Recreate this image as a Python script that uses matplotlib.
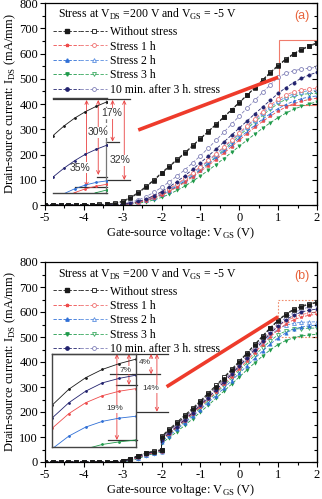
import matplotlib
matplotlib.use("Agg")
import matplotlib.pyplot as plt
from matplotlib.lines import Line2D
from matplotlib.patches import Rectangle
from matplotlib.legend_handler import HandlerTuple
from matplotlib.ticker import MultipleLocator

plt.rcParams["font.family"] = ["Liberation Serif", "DejaVu Serif"]
plt.rcParams["mathtext.fontset"] = "custom"
plt.rcParams["mathtext.rm"] = "Liberation Serif"
plt.rcParams["axes.unicode_minus"] = False

# ---- panel (a): one sweep, -5 V .. 2 V ----
VGS_A = [-5.0, -4.8, -4.6, -4.4, -4.2, -4.0, -3.8, -3.6, -3.4, -3.2, -3.0, -2.8,
         -2.6, -2.4, -2.2, -2.0, -1.8, -1.6, -1.4, -1.2, -1.0, -0.8, -0.6, -0.4,
         -0.2, 0.0, 0.2, 0.4, 0.6, 0.8, 1.0, 1.2, 1.4, 1.6, 1.8, 2.0]

BLACK_FWD_A = [0, 0, 0, 0, 0, 0, 1, 1, 2, 5, 13, 27, 47, 71, 97, 125, 152, 178, 205, 233,
               262, 290, 318, 347, 376, 405, 434, 463, 493, 523, 551, 576, 597, 614, 628, 640]
BLACK_BWD_A = [0, 0, 0, 0, 0, 1, 1, 2, 4, 8, 16, 30, 50, 74, 100, 128, 155, 181, 208, 236,
               264, 292, 320, 349, 378, 407, 436, 466, 496, 526, 554, 579, 600, 617, 631, 643]
NAVY_FWD_A = [0, 0, 0, 0, 0, 0, 0, 0, 0, 1, 3, 7, 14, 24, 37, 53, 72, 93, 116, 141,
              167, 194, 221, 249, 277, 305, 333, 361, 388, 415, 442, 465, 485, 502, 515, 526]
LAV_BWD_A = [0, 0, 0, 0, 0, 0, 0, 0, 1, 2, 5, 11, 20, 33, 50, 70, 92, 115, 140, 167,
             195, 225, 256, 288, 320, 352, 384, 415, 446, 476, 506, 522, 532, 538, 542, 545]
RED_FWD_A = [0, 0, 0, 0, 0, 0, 0, 0, 0, 0, 2, 5, 10, 17, 27, 39, 54, 71, 90, 111,
             133, 156, 180, 205, 231, 257, 283, 308, 331, 352, 372, 388, 401, 411, 418, 423]
RED_BWD_A = [0, 0, 0, 0, 0, 0, 0, 0, 0, 1, 3, 7, 13, 22, 34, 48, 65, 84, 105, 128,
             152, 177, 203, 230, 258, 286, 314, 342, 370, 396, 418, 436, 448, 456, 460, 462]
BLUE_FWD_A = [0, 0, 0, 0, 0, 0, 0, 0, 0, 0, 2, 5, 11, 18, 29, 42, 57, 75, 95, 116,
              139, 163, 188, 213, 239, 265, 291, 316, 340, 362, 382, 398, 411, 421, 428, 432]
BLUE_BWD_A = [0, 0, 0, 0, 0, 0, 0, 0, 0, 1, 2, 6, 12, 20, 31, 45, 61, 80, 101, 124,
              148, 173, 199, 226, 254, 282, 310, 337, 363, 388, 410, 428, 440, 448, 453, 455]
GREEN_FWD_A = [0, 0, 0, 0, 0, 0, 0, 0, 0, 0, 1, 3, 7, 12, 20, 30, 43, 58, 75, 94,
               115, 137, 160, 184, 208, 233, 257, 281, 304, 326, 346, 364, 379, 391, 401, 408]
GREEN_BWD_A = [0, 0, 0, 0, 0, 0, 0, 0, 0, 0, 2, 5, 10, 17, 27, 40, 56, 74, 94, 116,
               140, 165, 191, 218, 246, 274, 302, 329, 355, 380, 402, 419, 431, 438, 441, 442]

# ---- panel (b): two sweeps joined at -2 V (step in the data there) ----
VGS_B = [-5.0, -4.8, -4.6, -4.4, -4.2, -4.0, -3.8, -3.6, -3.4, -3.2, -3.0, -2.8,
         -2.6, -2.4, -2.2, -2.0,
         -2.0, -1.8, -1.6, -1.4, -1.2, -1.0, -0.8, -0.6, -0.4, -0.2, 0.0, 0.2,
         0.4, 0.6, 0.8, 1.0, 1.2, 1.4, 1.6, 1.8, 2.0]

BLACK_FWD_B = [0, 0, 0, 0, 0, 0, 0, 0, 0, 1, 4, 12, 24, 35, 42, 48,
               100, 128, 155, 183, 211, 240, 271, 302, 334, 367, 400, 434, 468, 502, 535,
               565, 590, 608, 621, 630, 637]
BLACK_BWD_B = [0, 0, 0, 0, 0, 0, 0, 0, 1, 2, 6, 14, 26, 37, 44, 50,
               104, 132, 160, 188, 216, 245, 276, 307, 339, 371, 404, 437, 471, 505, 538,
               568, 593, 611, 624, 633, 640]
NAVY_FWD_B = [0, 0, 0, 0, 0, 0, 0, 0, 0, 1, 3, 10, 21, 32, 40, 46,
              90, 116, 142, 170, 198, 228, 258, 288, 319, 351, 384, 417, 450, 483, 515,
              545, 569, 587, 600, 607, 612]
LAV_BWD_B = [0, 0, 0, 0, 0, 0, 0, 0, 0, 1, 4, 11, 22, 33, 41, 47,
             96, 123, 150, 178, 206, 235, 265, 296, 327, 359, 392, 425, 459, 492, 524,
             553, 578, 597, 611, 620, 627]
RED_FWD_B = [0, 0, 0, 0, 0, 0, 0, 0, 0, 0, 2, 8, 18, 29, 37, 44,
             88, 113, 139, 166, 194, 222, 251, 280, 311, 342, 374, 406, 438, 470, 501,
             529, 552, 569, 580, 587, 591]
RED_BWD_B = [0, 0, 0, 0, 0, 0, 0, 0, 0, 1, 3, 10, 20, 31, 39, 45,
             92, 118, 145, 172, 200, 229, 259, 290, 321, 353, 385, 418, 451, 484, 515,
             543, 564, 579, 590, 596, 600]
BLUE_FWD_B = [0, 0, 0, 0, 0, 0, 0, 0, 0, 0, 2, 7, 16, 27, 36, 42,
              82, 106, 131, 157, 183, 210, 238, 266, 295, 325, 355, 385, 415, 444, 472,
              497, 517, 531, 540, 545, 548]
BLUE_BWD_B = [0, 0, 0, 0, 0, 0, 0, 0, 0, 0, 2, 8, 18, 29, 38, 44,
              90, 116, 143, 170, 198, 227, 257, 287, 318, 350, 382, 414, 446, 477, 507,
              532, 547, 555, 559, 560, 561]
GREEN_FWD_B = [0, 0, 0, 0, 0, 0, 0, 0, 0, 0, 1, 5, 14, 25, 34, 41,
               75, 98, 122, 147, 173, 200, 227, 255, 283, 311, 340, 369, 397, 424, 449,
               470, 486, 497, 504, 508, 511]
GREEN_BWD_B = [0, 0, 0, 0, 0, 0, 0, 0, 0, 0, 2, 7, 16, 27, 36, 43,
               85, 110, 136, 162, 189, 217, 246, 275, 305, 335, 366, 397, 427, 457, 485,
               509, 524, 531, 534, 535, 536]

LABELS = ["Without stress", "Stress 1 h", "Stress 2 h", "Stress 3 h",
          "10 min. after 3 h. stress"]
TITLE = "Stress at V$_{\\rm DS}$ =200 V and V$_{\\rm GS}$ = -5 V"

# colour, filled marker, open marker, open colour
STYLES = [
    ("#1a1a1a", "s", "s", "#1a1a1a"),
    ("#ee4b4b", "*", "o", "#f07070"),
    ("#2f6fd6", "^", "^", "#5a8ee0"),
    ("#1f9a4a", "v", "v", "#3aaa60"),
    ("#22226e", "o", "o", "#8080b8"),
]

DATA_A = [(BLACK_FWD_A, BLACK_BWD_A), (RED_FWD_A, RED_BWD_A), (BLUE_FWD_A, BLUE_BWD_A),
          (GREEN_FWD_A, GREEN_BWD_A), (NAVY_FWD_A, LAV_BWD_A)]
DATA_B = [(BLACK_FWD_B, BLACK_BWD_B), (RED_FWD_B, RED_BWD_B), (BLUE_FWD_B, BLUE_BWD_B),
          (GREEN_FWD_B, GREEN_BWD_B), (NAVY_FWD_B, LAV_BWD_B)]

RED = "#ee3b2b"
W, H = 322, 499
DASH = (0, (4, 2))

fig = plt.figure(figsize=(W / 100, H / 100), dpi=100)


def style_axes(ax):
    ax.set_xlim(-5, 2)
    ax.set_ylim(0, 800)
    ax.xaxis.set_major_locator(MultipleLocator(1))
    ax.xaxis.set_minor_locator(MultipleLocator(0.5))
    ax.yaxis.set_major_locator(MultipleLocator(100))
    ax.yaxis.set_minor_locator(MultipleLocator(50))
    ax.tick_params(which="both", direction="out", width=0.8, labelsize=9, pad=1.5)
    ax.tick_params(which="major", length=3.5)
    ax.tick_params(which="minor", length=2)
    for spine in ax.spines.values():
        spine.set_linewidth(0.9)
    sec = ax.secondary_yaxis("right")
    sec.yaxis.set_major_locator(MultipleLocator(100))
    sec.yaxis.set_minor_locator(MultipleLocator(50))
    sec.tick_params(which="both", direction="in", labelright=False, width=0.8)
    sec.tick_params(which="major", length=3.5)
    sec.tick_params(which="minor", length=2)
    ax.set_xlabel("Gate-source voltage: V$_{\\rm GS}$ (V)", fontsize=9, labelpad=1)
    ax.set_ylabel("Drain-source current: I$_{\\rm DS}$ (mA/mm)", fontsize=9, labelpad=1)


def draw_curves(ax, vgs, data):
    for idx in [3, 2, 1, 4, 0]:
        fwd, bwd = data[idx]
        color, mfill, mopen, ocolor = STYLES[idx]
        ax.plot(vgs, bwd, ls=DASH, lw=0.6, color=ocolor, marker=mopen, ms=2.8,
                mfc="white", mec=ocolor, mew=0.6)
        ax.plot(vgs, fwd, ls=DASH, lw=0.6, color=color, marker=mfill, ms=2.4,
                mfc=color, mec=color, mew=0.4)


def draw_legend(ax, title_y, anchor_y):
    ax.text(0.048, title_y, TITLE, transform=ax.transAxes, fontsize=8.5, va="center")
    handles = []
    for color, mfill, mopen, ocolor in STYLES:
        h1 = Line2D([], [], ls=DASH, lw=0.6, color=color, marker=mfill, ms=2.4,
                    mfc=color, mec=color)
        h2 = Line2D([], [], ls=DASH, lw=0.6, color=ocolor, marker=mopen, ms=2.8,
                    mfc="white", mec=ocolor, mew=0.6)
        handles.append((h1, h2))
    ax.legend(handles, LABELS, loc="upper left", bbox_to_anchor=(0.03, anchor_y),
              frameon=False, fontsize=8.5, numpoints=1, handlelength=4.6,
              handletextpad=0.25, labelspacing=0.2, borderpad=0, borderaxespad=0,
              handler_map={tuple: HandlerTuple(ndivide=2, pad=0.0)})


def draw_inset(rect, data, ylim, full_frame):
    ins = fig.add_axes(rect, facecolor="none")
    for idx in [3, 2, 1, 4, 0]:
        color = STYLES[idx][0]
        ins.plot(VGS_A if data is DATA_A else VGS_B, data[idx][0], lw=0.6,
                 color=color, marker="o", ms=1.0)
    ins.set_xlim(1, 2)
    ins.set_ylim(*ylim)
    ins.set_xticks([])
    ins.set_yticks([])
    for name, spine in ins.spines.items():
        spine.set_color("#444444")
        spine.set_linewidth(1.0)
        if not full_frame and name in ("left", "right"):
            spine.set_visible(False)
    return ins


def pct_arrow(ax, x, y0, y1, label, lx, ly, fs):
    ax.annotate("", xy=(x, y1), xytext=(x, y0),
                arrowprops=dict(arrowstyle="<->,head_length=0.25,head_width=0.12",
                                color="#e94040", lw=0.6, shrinkA=0, shrinkB=0))
    ax.text(lx, ly, label, fontsize=fs, family="Liberation Sans", ha="center",
            va="center", color="#333333",
            bbox=dict(fc="white", ec="none", pad=0.4))


def hline(ax, y, x0, x1, color="#333333", ls="-"):
    ax.plot([x0, x1], [y, y], color=color, lw=0.9, ls=ls)


# ---------------- panel (a) ----------------
ax_a = fig.add_axes([45 / W, 1 - 205 / H, 272 / W, 202 / H])
style_axes(ax_a)
draw_curves(ax_a, VGS_A, DATA_A)
ax_a.add_patch(Rectangle((1.02, 396), 0.98, 257, fill=False, ec="#f07c6c", lw=0.8))
ax_a.plot([-2.6, 1.0], [297, 506], color=RED, lw=2.6, solid_capstyle="butt")
draw_legend(ax_a, 0.943, 0.885)
ax_a.text(0.945, 0.936, "(a)", transform=ax_a.transAxes, color="#e8643c",
          fontsize=9, family="Liberation Sans", ha="center", va="center")

hline(ax_a, 420, -4.79, -2.81)
hline(ax_a, 251, -3.43, -3.10)
hline(ax_a, 99, -3.43, -2.81)
hline(ax_a, 112, -3.66, -3.40)
hline(ax_a, 72, -4.23, -3.40)
ax_a.plot([-3.43, -3.43], [416, 251], color="#777777", lw=0.9, ls=(0, (3, 2)))
ax_a.plot([-3.43, -3.43], [251, 48], color="#777777", lw=0.9)
pct_arrow(ax_a, -3.93, 416, 72, "35%", -4.10, 147, 7.5)
pct_arrow(ax_a, -3.63, 416, 119, "30%", -3.64, 289, 7.5)
pct_arrow(ax_a, -3.26, 416, 251, "17%", -3.28, 364, 7.5)
pct_arrow(ax_a, -2.96, 416, 99, "32%", -3.08, 178, 7.5)
draw_inset([53 / W, 1 - 193 / H, 54 / W, 95 / H], DATA_A, (400, 650), False)

# ---------------- panel (b) ----------------
ax_b = fig.add_axes([45 / W, 1 - 462 / H, 272 / W, 200 / H])
style_axes(ax_b)
draw_curves(ax_b, VGS_B, DATA_B)
ax_b.add_patch(Rectangle((1.0, 500), 1.0, 148, fill=False, ec="#f08c6c", lw=0.8,
                         ls=(0, (1.5, 1.5))))
ax_b.plot([-1.87, 1.0], [301, 581], color=RED, lw=2.6, solid_capstyle="butt")
draw_legend(ax_b, 0.94, 0.882)
ax_b.text(0.945, 0.93, "(b)", transform=ax_b.transAxes, color="#e8643c",
          fontsize=9, family="Liberation Sans", ha="center", va="center")

hline(ax_b, 432, -4.82, -1.84)
hline(ax_b, 351, -3.33, -2.04)
hline(ax_b, 308, -3.16, -2.64)
hline(ax_b, 201, -2.64, -1.84)
hline(ax_b, 88, -3.38, -2.64)
pct_arrow(ax_b, -3.15, 432, 88, "19%", -3.20, 212, 6)
pct_arrow(ax_b, -2.84, 432, 308, "7%", -2.92, 368, 6)
pct_arrow(ax_b, -2.27, 432, 351, "4%", -2.42, 396, 6)
pct_arrow(ax_b, -2.12, 432, 201, "14%", -2.28, 292, 6)
draw_inset([52 / W, 1 - 447 / H, 84 / W, 93 / H], DATA_B, (500, 645), True)

fig.savefig("out.png", dpi=100)
